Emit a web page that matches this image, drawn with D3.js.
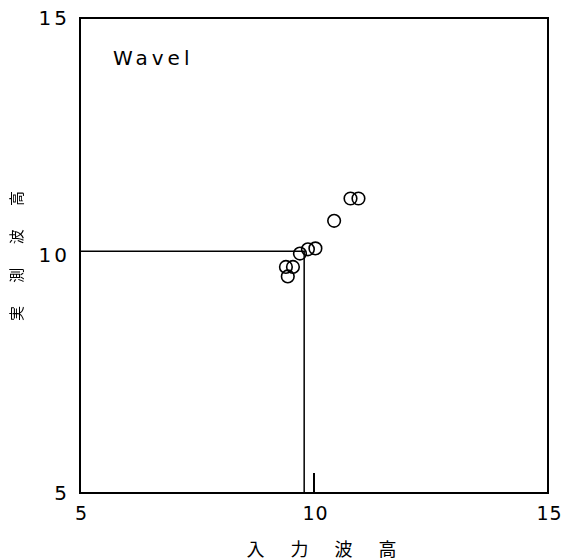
<!DOCTYPE html>
<html>
<head>
<meta charset="utf-8">
<script src="https://cdn.jsdelivr.net/npm/d3@7"></script>
<style>
  html, body { margin: 0; padding: 0; background: #fff; }
  svg { display: block; }
</style>
</head>
<body>
<svg id="chart" width="563" height="560"></svg>
<script>
// Input wave height vs. measured wave height
const inputHeight    = [9.40, 9.55, 9.44, 9.70, 9.87, 10.03, 10.43, 10.78, 10.95];
const measuredHeight = [9.76, 9.76, 9.56, 10.04, 10.13, 10.15, 10.73, 11.20, 11.20];
// Reference crossing marked with guide lines
const refPoint = [9.79, 10.09];
const xTicks = [5, 10, 15];
const yTicks = [5, 10, 15];
const seriesLabel = "Wavel";
const xTitle = "入 力 波 高";
const yTitle = "実 測 波 高";

const svg = d3.select("#chart");
const L = 80, R = 548, T = 18, B = 493;

const x = d3.scaleLinear().domain([5, 15]).range([L, R]);
const y = d3.scaleLinear().domain([5, 15]).range([B, T]);

const numFont = "'DejaVu Sans', sans-serif";
const cjkFont = "'Noto Sans CJK JP', sans-serif";

// frame
svg.append("rect")
  .attr("x", L).attr("y", T)
  .attr("width", R - L).attr("height", B - T)
  .attr("fill", "none").attr("stroke", "#000").attr("stroke-width", 2);

// x axis tick labels
const xAxis = d3.axisBottom(x).tickValues(xTicks).tickSize(0).tickPadding(14)
  .tickFormat(d3.format("d"));
const gx = svg.append("g").attr("transform", `translate(0,${B})`).call(xAxis);
gx.select(".domain").remove();
gx.selectAll("text")
  .attr("font-family", numFont).attr("font-size", 19)
  .attr("letter-spacing", 1).attr("dx", 1).attr("fill", "#000");

// y axis tick labels
const yAxis = d3.axisLeft(y).tickValues(yTicks).tickSize(0).tickPadding(10)
  .tickFormat(d3.format("d"));
const gy = svg.append("g").attr("transform", `translate(${L},0)`).call(yAxis);
gy.select(".domain").remove();
gy.selectAll("text")
  .attr("font-family", numFont).attr("font-size", 20)
  .attr("letter-spacing", 3).attr("fill", "#000");

// inner tick at x = 10 on the bottom edge
svg.append("line")
  .attr("x1", x(10)).attr("x2", x(10))
  .attr("y1", B).attr("y2", B - 20)
  .attr("stroke", "#000").attr("stroke-width", 2);

// guide lines to the reference point
svg.append("path")
  .attr("d", `M${x(5)},${y(refPoint[1])}H${x(refPoint[0])}V${y(5)}`)
  .attr("fill", "none").attr("stroke", "#000").attr("stroke-width", 1.5);

// data points
svg.append("g").selectAll("circle")
  .data(inputHeight.map((v, i) => [v, measuredHeight[i]]))
  .join("circle")
  .attr("cx", d => x(d[0])).attr("cy", d => y(d[1]))
  .attr("r", 6.3)
  .attr("fill", "none").attr("stroke", "#000").attr("stroke-width", 1.6);

// series label
svg.append("text")
  .attr("x", 113).attr("y", 65)
  .attr("font-family", numFont).attr("font-size", 20)
  .attr("letter-spacing", 4).attr("fill", "#000")
  .text(seriesLabel);

// axis titles
svg.append("text")
  .attr("x", 327).attr("y", 556)
  .attr("text-anchor", "middle")
  .attr("font-family", cjkFont).attr("font-size", 18)
  .attr("letter-spacing", 11).attr("fill", "#000")
  .text(xTitle);

svg.append("text")
  .attr("transform", `translate(22,251) rotate(-90)`)
  .attr("text-anchor", "middle")
  .attr("font-family", cjkFont).attr("font-size", 15)
  .attr("letter-spacing", 10).attr("fill", "#000")
  .style("filter", "grayscale(1)")
  .text(yTitle);
</script>
</body>
</html>
